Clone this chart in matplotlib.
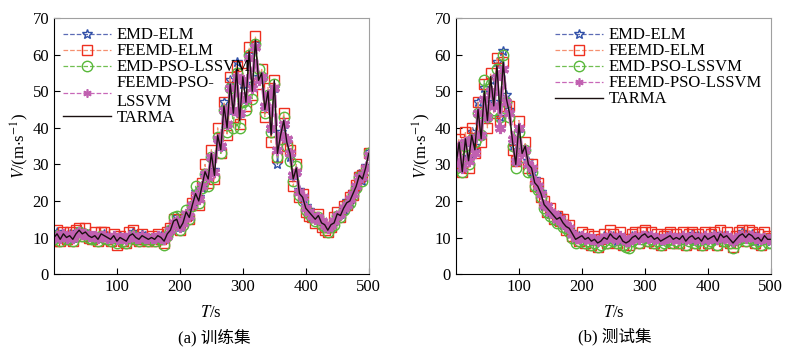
import numpy as np
import matplotlib
matplotlib.use("Agg")
import matplotlib.pyplot as plt

plt.rcParams['font.family'] = ['Liberation Serif', 'Noto Sans CJK SC']
plt.rcParams['mathtext.fontset'] = 'stix'
plt.rcParams['font.size'] = 10

# time axis, seconds (one sample every 5 s)
time_s = np.arange(0, 501, 5)

series_names = ['EMD-ELM', 'FEEMD-ELM', 'EMD-PSO-LSSVM', 'FEEMD-PSO-LSSVM', 'TARMA']

# ---- (a) training set ----
tarma_a = [10, 11, 9.5, 11, 10, 10.5, 9.5, 11, 12, 11,
           11.5, 10.5, 10, 10.5, 9.5, 11, 10.5, 10, 9.5, 10.5,
           9, 10, 9.5, 9, 10.5, 11, 10, 9.5, 10.5, 10,
           9.5, 10, 9.5, 10.5, 10, 9, 11, 12, 14.5, 15,
           12.5, 14, 17, 15.5, 19, 22, 20, 24, 28, 26,
           33, 27, 38, 34, 46, 40, 52, 44, 56, 42,
           54, 47, 61, 50, 64, 53, 55, 45, 50, 38,
           53, 33, 38, 42, 36, 33, 26, 29, 22, 21,
           18, 17, 16, 15, 16, 14, 13.5, 12, 13.5, 14,
           16.5, 16, 18, 19.5, 20, 22, 24, 27, 26, 29,
           33]
emd_elm_a = [10.5, 11.5, 10, 10.5, 10.5, 11, 10, 11.5, 11.5, 11.5,
             11, 11, 10.5, 10, 10, 10.5, 11, 10.5, 10, 10,
             9.5, 10.5, 10, 9.5, 10, 11.5, 10.5, 10, 11, 10.5,
             10, 9.5, 10, 10, 10.5, 9.5, 10.5, 12.5, 14, 15.5,
             13, 14.5, 16.5, 16, 18.5, 22.5, 21, 23.5, 27, 27,
             32, 28.5, 37, 35, 47, 41, 53, 45, 58, 44,
             52, 48, 60, 52, 63, 54, 54, 46, 49, 40,
             51, 30, 39, 41, 37, 32, 27, 28, 23, 20.5,
             18.5, 17.5, 15.5, 15.5, 15.5, 14.5, 13, 12.5, 13, 14.5,
             16, 16.5, 17.5, 20, 19.5, 22.5, 23.5, 27.5, 25.5, 29.5,
             33.5]
feemd_elm_a = [9, 12, 9, 11.5, 9.5, 11.5, 9, 12, 12.5, 10.5,
               12.5, 10, 9.5, 11.5, 9, 11.5, 11.5, 9.5, 9, 11,
               8, 10.5, 9, 8.5, 11.5, 12, 9.5, 9, 11, 9.5,
               9, 10.5, 9, 11, 9.5, 8.5, 11.5, 12.5, 15, 14,
               12, 15, 16, 15, 19.5, 21, 19, 25, 30, 25,
               34, 26, 40, 33, 47, 38, 54, 43, 57, 41,
               55, 46, 62, 49, 65, 52, 56, 43, 51, 36,
               53, 32, 37, 44, 35, 34, 24, 30, 21, 22,
               17, 16, 15.5, 14, 16.5, 13, 12, 11.5, 13, 15.5,
               17, 15.5, 18.5, 19, 21, 21.5, 24.5, 26.5, 27, 28.5,
               33]
emd_pso_a = [9.5, 10.5, 9, 10.5, 9.5, 10, 9, 10.5, 11.5, 10.5,
             11, 10, 9.5, 10, 9, 10.5, 10, 9.5, 9, 10,
             8.5, 9.5, 9, 8.5, 10, 10.5, 9.5, 9, 10, 9.5,
             9, 9.5, 9, 10, 9.5, 8, 10.5, 12, 15.5, 16,
             12, 13.5, 17.5, 15, 18.5, 24, 19.5, 23.5, 27.5, 24,
             32, 26.5, 37.5, 33, 45, 39, 51, 40, 55, 40,
             47, 45, 60, 48, 63, 56, 54, 44, 49, 39,
             52, 32, 37, 43, 35, 31, 25.5, 29.5, 21.5, 20,
             17.5, 16.5, 15.5, 14.5, 15.5, 13.5, 13, 11.5, 13, 13.5,
             16, 15.5, 17.5, 19, 19.5, 21.5, 23.5, 26.5, 25.5, 28.5,
             33]
feemd_pso_a = [10, 10.5, 10, 11, 10, 10.5, 10, 11, 11.5, 11,
               11, 10.5, 10.5, 10.5, 10, 10.5, 10.5, 10, 10, 10.5,
               9.5, 10, 10, 9.5, 10.5, 10.5, 10, 10, 10.5, 10,
               10, 10, 10, 10.5, 10, 9.5, 10.5, 12, 14, 14.5,
               13, 14, 16.5, 16, 19, 21.5, 20.5, 24, 27.5, 26.5,
               32, 28, 37, 35, 45, 41, 51, 45, 54, 44,
               53, 48, 59, 51, 62, 53, 54, 46, 49, 40,
               51, 34, 38, 41, 37, 33, 27, 28, 22.5, 21,
               18, 17, 16, 15, 15.5, 14.5, 13.5, 12.5, 13.5, 14.5,
               16, 16.5, 18, 19, 20.5, 22, 24, 26.5, 26.5, 29,
               32.5]

# ---- (b) test set ----
tarma_b = [30, 36, 28, 37, 31, 38, 34, 45, 37, 50,
           42, 54, 46, 57, 44, 58, 48, 44, 36, 30,
           41, 33, 35, 30, 29, 25, 24, 22, 19, 18,
           17, 16, 15, 15.5, 14, 13, 12.5, 11, 9.5, 10,
           10.5, 9.5, 10, 9, 9.5, 8.5, 9, 10, 9.5, 11,
           10, 9.5, 10.5, 9, 8.5, 9, 10, 10.5, 9.5, 10.5,
           11, 10, 10.5, 9.5, 10, 9, 9.5, 10, 10.5, 9.5,
           10, 9.5, 10.5, 9, 10, 10.5, 9.5, 10, 9, 10.5,
           9.5, 10, 10.5, 9, 11, 10, 10.5, 9.5, 8.5, 9.5,
           10.5, 11, 10, 11, 10.5, 9.5, 10, 9, 10.5, 9.5,
           9.5]
emd_elm_b = [31, 35, 29, 36, 32, 39, 35, 47, 38, 51,
             43, 53, 47, 58, 43, 61, 49, 45, 35, 31,
             40, 34, 34, 31, 28, 26, 23.5, 22.5, 18.5, 18.5,
             16.5, 16.5, 14.5, 16, 13.5, 13.5, 12, 11.5, 10, 10.5,
             10, 10, 9.5, 9.5, 9, 9, 9.5, 10.5, 10, 10.5,
             10.5, 9, 10, 9.5, 9, 9.5, 10.5, 10, 10, 10,
             10.5, 10.5, 10, 10, 9.5, 9.5, 9, 10.5, 10, 10,
             9.5, 10, 10, 9.5, 9.5, 11, 9, 10.5, 9.5, 10,
             10, 9.5, 11, 9.5, 10.5, 10.5, 10, 10, 9, 10,
             10, 11.5, 10.5, 10.5, 11, 9, 10.5, 9.5, 10, 10,
             9]
feemd_elm_b = [34, 37, 28, 39, 29, 40, 33, 47, 36, 52,
               40, 55, 44, 59, 42, 58, 46, 46, 34, 31,
               42, 32, 36, 29, 30, 24, 25, 21, 20, 17,
               18, 15, 16, 14.5, 15, 12, 13.5, 10.5, 10, 9,
               11.5, 8.5, 11, 8, 10.5, 7.5, 9.5, 11, 8.5, 12,
               11, 8.5, 11.5, 8, 9.5, 8, 11, 11.5, 8.5, 11.5,
               12, 9, 11.5, 8.5, 11, 8, 10.5, 11, 11.5, 8.5,
               11, 8.5, 11.5, 8, 11, 11.5, 8.5, 11, 8, 11.5,
               8.5, 11, 11.5, 8, 12, 9, 11.5, 8.5, 7.5, 10.5,
               11.5, 12, 9, 12, 11.5, 8.5, 11, 8, 11.5, 10.5,
               10]
emd_pso_b = [29, 34, 28, 35, 30, 37, 36, 44, 38, 53,
             43, 52, 45, 56, 43, 60, 47, 43, 35, 29,
             39, 32, 34, 28, 28, 24, 23, 21, 18, 17,
             16, 15, 14, 14.5, 13, 12.5, 11.5, 10, 8.5, 9,
             9.5, 8.5, 9, 8, 8.5, 7.5, 8, 9, 8.5, 10,
             9, 8.5, 9.5, 8, 7.5, 7, 9, 9.5, 8.5, 9.5,
             10, 9, 9.5, 8.5, 9, 8, 8.5, 9, 9.5, 8.5,
             9, 8.5, 9.5, 8, 9, 9.5, 8.5, 9, 8, 9.5,
             8.5, 9, 9.5, 8, 10, 9, 9.5, 8.5, 7, 8.5,
             9.5, 10, 9, 10, 9.5, 8.5, 9, 8, 9.5, 8.5,
             8.5]
feemd_pso_b = [31, 35, 29, 36, 31, 37, 33, 44, 38, 48,
               43, 50, 46, 54, 40, 56, 47, 44, 37, 31,
               40, 33, 34, 30, 29, 25.5, 24, 22, 19, 18.5,
               17, 16.5, 15, 15, 14, 13.5, 12.5, 11, 10, 10,
               10.5, 9.5, 10, 9.5, 9.5, 9, 9.5, 10, 10, 10.5,
               10, 9.5, 10.5, 9.5, 9, 9, 10, 10.5, 9.5, 10.5,
               10.5, 10, 10.5, 9.5, 10, 9.5, 9.5, 10, 10.5, 9.5,
               10, 9.5, 10.5, 9.5, 10, 10.5, 9.5, 10, 9.5, 10.5,
               9.5, 10, 10.5, 9.5, 10.5, 10, 10.5, 9.5, 9, 9.5,
               10.5, 10.5, 10, 10.5, 10.5, 10, 10, 9.5, 10, 9.5,
               9.5]

styles = [
    dict(color='#5b6bb5', ls='--', lw=0.9, marker='*', mfc='none', mec='#3050a8', ms=7, mew=1.0),
    dict(color='#f59070', ls='--', lw=0.9, marker='s', mfc='none', mec='#ee3020', ms=7, mew=1.0),
    dict(color='#70bf50', ls='--', lw=0.9, marker='o', mfc='none', mec='#58b83a', ms=7.5, mew=1.0),
    dict(color='#c868b8', ls='--', lw=2.5, marker=(6, 2, 0), mfc='#c060b0', mec='#c060b0', ms=8, mew=2.2),
    dict(color='#1a1010', ls='-', lw=1.0, marker=None),
]


def draw(ax, data, labels, legend_loc):
    for vals, name, st in zip(data, labels, styles):
        ax.plot(time_s, vals, label=name, **st)
    ax.set_xlim(0, 500)
    ax.set_ylim(0, 70)
    ax.set_xticks([100, 200, 300, 400, 500])
    ax.set_yticks(range(0, 71, 10))
    ax.tick_params(direction='in', length=4, labelsize=12, top=False, right=False)
    ax.spines['top'].set_color('#a0a0a0')
    ax.spines['right'].set_color('#a0a0a0')
    ax.set_xlabel('$T$/s', fontsize=12, labelpad=7)
    ax.set_ylabel(r'$V$/(m$\cdot$s$^{-1}$)', fontsize=12, labelpad=1)
    leg = ax.legend(loc=legend_loc, frameon=False, fontsize=12, handlelength=2.9,
                    labelspacing=0.0, handletextpad=0.3, borderaxespad=0.15)
    # thinner magenta line in the legend than on the plot band
    for lh in leg.get_lines():
        if lh.get_color() == '#c868b8':
            lh.set_linewidth(0.9)
            lh.set_markersize(6)
            lh.set_markeredgewidth(1.2)


fig = plt.figure(figsize=(7.93, 3.5), dpi=100)
ax1 = fig.add_axes([0.068, 0.217, 0.397, 0.731])
ax2 = fig.add_axes([0.575, 0.217, 0.397, 0.731])

labels_a = ['EMD-ELM', 'FEEMD-ELM', 'EMD-PSO-LSSVM', 'FEEMD-PSO-\nLSSVM', 'TARMA']
draw(ax1, [emd_elm_a, feemd_elm_a, emd_pso_a, feemd_pso_a, tarma_a], labels_a, 'upper left')
draw(ax2, [emd_elm_b, feemd_elm_b, emd_pso_b, feemd_pso_b, tarma_b], series_names, 'upper right')

fig.text(0.27, 0.037, '(a) 训练集', ha='center', va='center', fontsize=12)
fig.text(0.775, 0.037, '(b) 测试集', ha='center', va='center', fontsize=12)

fig.savefig('out.png', dpi=100)
